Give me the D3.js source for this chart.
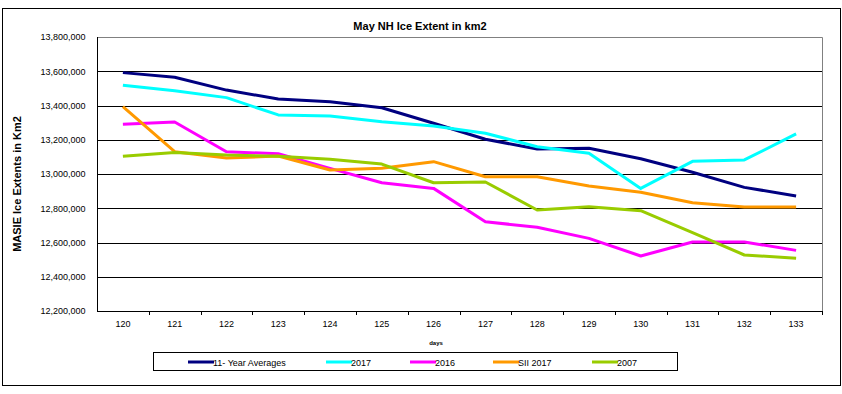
<!DOCTYPE html>
<html><head><meta charset="utf-8">
<script src="https://cdn.jsdelivr.net/npm/d3@7"></script>
<style>html,body{margin:0;padding:0;background:#fff;}svg{display:block;font-family:"Liberation Sans",Arial,sans-serif;}</style>
</head><body><svg id="c" width="842" height="394"></svg>
<script>
const days = ["120","121","122","123","124","125","126","127","128","129","130","131","132","133"];
const avg11 = [13592000,13565000,13490000,13438000,13422000,13387000,13296000,13203000,13146000,13150000,13089000,13010000,12922000,12872000];
const y2017 = [13518000,13486000,13446000,13345000,13339000,13305000,13280000,13238000,13159000,13121000,12916000,13074000,13082000,13234000];
const y2016 = [13290000,13304000,13130000,13118000,13033000,12949000,12916000,12721000,12689000,12624000,12521000,12603000,12603000,12554000];
const sii2017 = [13393000,13130000,13093000,13105000,13023000,13033000,13072000,12984000,12984000,12930000,12893000,12832000,12807000,12807000];
const y2007 = [13103000,13126000,13111000,13103000,13086000,13058000,12949000,12953000,12790000,12809000,12786000,12657000,12527000,12508000];
const yTicks = [12200000,12400000,12600000,12800000,13000000,13200000,13400000,13600000,13800000];
const seriesNames = ["11- Year Averages","2017","2016","SII 2017","2007"];
const seriesValues = [avg11, y2017, y2016, sii2017, y2007];
const seriesColors = ["#000080","#00FFFF","#FF00FF","#FF9900","#99CC00"];

const svg = d3.select("#c");
const L = 97, R = 822, T = 37, B = 311;

svg.append("rect").attr("x",2.5).attr("y",8.5).attr("width",838).attr("height",377)
  .attr("fill","#fff").attr("stroke","#000").attr("stroke-width",1);

const x = d3.scaleBand().domain(days).range([L,R]).padding(0);
const y = d3.scaleLinear().domain([12200000,13800000]).range([B,T]);

// gridlines
svg.append("g").selectAll("line").data(yTicks.filter(v=>v>12200000 && v<13800000)).join("line")
  .attr("x1",L).attr("x2",R).attr("y1",d=>Math.round(y(d))+0.5).attr("y2",d=>Math.round(y(d))+0.5)
  .attr("stroke","#000").attr("stroke-width",1);
// top and right border gray
svg.append("path").attr("d",`M${L},${T+0.5}H${R+0.5}V${B}`).attr("fill","none").attr("stroke","#808080").attr("stroke-width",1);

// y axis
const yAxis = svg.append("g").attr("transform",`translate(${L+0.5},0)`)
  .call(d3.axisLeft(y).tickValues(yTicks).tickSize(0).tickPadding(12).tickFormat(d3.format(",")));
yAxis.select(".domain").attr("stroke","#000").attr("d",`M0,${T}V${B+0.5}`);
yAxis.selectAll("text").attr("font-size","9px").attr("fill","#000").attr("font-family","Liberation Sans, Arial, sans-serif");

// x axis
const xAxis = svg.append("g").attr("transform",`translate(0,${B+0.5})`)
  .call(d3.axisBottom(x).tickSize(0).tickPadding(9));
xAxis.select(".domain").attr("stroke","#000").attr("d",`M${L},0H${R+0.5}`);
xAxis.selectAll("text").attr("font-size","9px").attr("fill","#000").attr("font-family","Liberation Sans, Arial, sans-serif");
svg.append("g").selectAll("line").data(days.slice(1).concat(["end"])).join("line")
  .attr("x1",(d,i)=>Math.round(L + x.bandwidth()*(i+1))+0.5)
  .attr("x2",(d,i)=>Math.round(L + x.bandwidth()*(i+1))+0.5)
  .attr("y1",B).attr("y2",B+4).attr("stroke","#000");

// lines
const line = d3.line().x((d,i)=>x(days[i])+x.bandwidth()/2).y(d=>y(d));
seriesValues.forEach((vals,k)=>{
  svg.append("path").datum(vals).attr("d",line).attr("fill","none")
    .attr("stroke",seriesColors[k]).attr("stroke-width",3).attr("stroke-linejoin","round");
});

// title
svg.append("text").attr("x",420).attr("y",30).attr("text-anchor","middle")
  .attr("font-size","11px").attr("font-weight","bold").text("May NH Ice Extent in km2");
// y label
svg.append("text").attr("transform","translate(21,184) rotate(-90)").attr("text-anchor","middle")
  .attr("font-size","11px").attr("font-weight","bold").text("MASIE Ice Extents in Km2");
// x label
svg.append("text").attr("x",436).attr("y",345).attr("text-anchor","middle")
  .attr("font-size","6px").attr("font-weight","bold").text("days");

// legend
svg.append("rect").attr("x",153.5).attr("y",352.5).attr("width",524).attr("height",18)
  .attr("fill","#fff").attr("stroke","#000").attr("stroke-width",1);
const legX = [188,326,410,493,592];
const lg = svg.append("g").selectAll("g").data(seriesNames).join("g")
  .attr("transform",(d,i)=>`translate(${legX[i]},362)`);
lg.append("line").attr("x1",0).attr("x2",26).attr("y1",0).attr("y2",0)
  .attr("stroke",(d,i)=>seriesColors[i]).attr("stroke-width",3);
lg.append("text").attr("x",25).attr("y",3.5).attr("font-size","9px").text(d=>d);
</script></body></html>
